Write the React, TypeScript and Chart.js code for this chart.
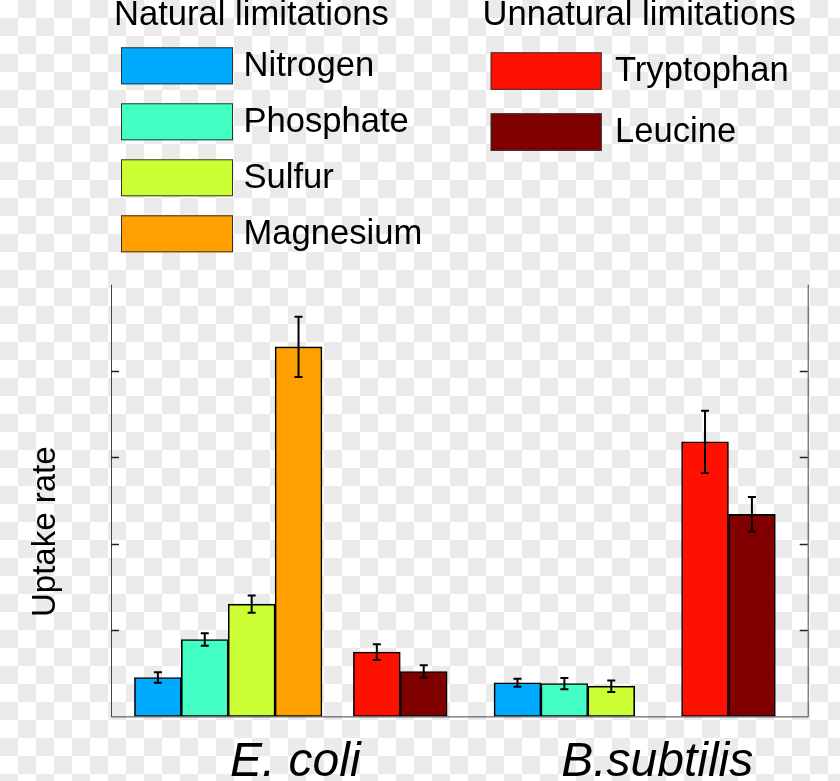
import { useEffect, useRef } from 'react';
import { Chart, registerables } from 'chart.js';

Chart.register(...registerables);

// ---- data ----
const organisms = ['E. coli', 'B.subtilis'];
const organismLabelX = [3.93, 11.65];
const seriesNames = ['Nitrogen', 'Phosphate', 'Sulfur', 'Magnesium', 'Tryptophan', 'Leucine'];
const seriesGroup = [0, 0, 0, 0, 1, 1];
const groupTitles = ['Natural limitations', 'Unnatural limitations'];
const seriesColors = ['#00AAFF', '#44FFC4', '#CCFF33', '#FFA000', '#FF1000', '#800000'];

// slot position of each series' bar on the x axis, per organism
const ecoliSlots = [1, 2, 3, 4, 5.67, 6.67];
const bsubSlots = [8.67, 9.67, 10.67, null, 12.67, 13.67];

// values per organism [E. coli, B.subtilis]
const nitrogen = [0.45, 0.39];
const phosphate = [0.89, 0.38];
const sulfur = [1.3, 0.35];
const magnesium = [4.28, null];
const tryptophan = [0.745, 3.18];
const leucine = [0.52, 2.34];

const nitrogenErr = [0.06, 0.046];
const phosphateErr = [0.073, 0.066];
const sulfurErr = [0.1, 0.066];
const magnesiumErr = [0.35, null];
const tryptophanErr = [0.092, 0.36];
const leucineErr = [0.073, 0.2];

const yTicks = [1, 2, 3, 4];
const yMax = 5;
const xMax = 14.86;

const seriesValues = [nitrogen, phosphate, sulfur, magnesium, tryptophan, leucine];
const seriesErrors = [nitrogenErr, phosphateErr, sulfurErr, magnesiumErr, tryptophanErr, leucineErr];
const slotsByOrganism = [ecoliSlots, bsubSlots];

const FONT = "'Liberation Sans', Arial, sans-serif";
const AXIS_COLOR = '#444444';

const decorPlugin = {
  id: 'decor',
  afterDatasetsDraw(chart: any) {
    const ctx = chart.ctx;
    const yScale = chart.scales.y;
    ctx.save();
    ctx.strokeStyle = '#000';
    ctx.lineWidth = 2;
    chart.data.datasets.forEach((ds: any, di: number) => {
      const meta = chart.getDatasetMeta(di);
      ds.data.forEach((pt: any, i: number) => {
        const el = meta.data[i];
        const e = ds.errors[i];
        if (!el || e == null) return;
        const top = yScale.getPixelForValue(pt.y + e);
        const bot = yScale.getPixelForValue(pt.y - e);
        const x = el.x;
        ctx.beginPath();
        ctx.moveTo(x, top);
        ctx.lineTo(x, bot);
        ctx.moveTo(x - 4, top);
        ctx.lineTo(x + 4, top);
        ctx.moveTo(x - 4, bot);
        ctx.lineTo(x + 4, bot);
        ctx.stroke();
      });
    });
    ctx.restore();
  },
  afterDraw(chart: any) {
    const ctx = chart.ctx;
    const { left, right, top, bottom } = chart.chartArea;
    const yScale = chart.scales.y;
    ctx.save();
    ctx.strokeStyle = AXIS_COLOR;
    ctx.lineWidth = 1;
    ctx.beginPath();
    ctx.moveTo(left + 0.5, top);
    ctx.lineTo(left + 0.5, bottom + 0.5);
    ctx.lineTo(right + 0.5, bottom + 0.5);
    ctx.lineTo(right + 0.5, top);
    ctx.stroke();
    ctx.lineWidth = 1.5;
    ctx.strokeStyle = '#222';
    yTicks.forEach((v) => {
      const y = Math.round(yScale.getPixelForValue(v)) + 0.5;
      ctx.beginPath();
      ctx.moveTo(left, y);
      ctx.lineTo(left + 8, y);
      ctx.moveTo(right, y);
      ctx.lineTo(right - 8, y);
      ctx.stroke();
    });
    ctx.fillStyle = '#000';
    ctx.font = `33px ${FONT}`;
    ctx.textAlign = 'center';
    ctx.textBaseline = 'alphabetic';
    ctx.save();
    ctx.translate(54.5, 531.7);
    ctx.rotate(-Math.PI / 2);
    ctx.fillText('Uptake rate', 0, 0);
    ctx.restore();

    const cols = [
      { titleX: 114, boxX: 121, boxW: 112, boxH: 37, firstY: 47.3, step: 56, textX: 243.5 },
      { titleX: 482.5, boxX: 490.7, boxW: 111, boxH: 37.5, firstY: 52.3, step: 61, textX: 615 },
    ];
    ctx.textAlign = 'left';
    ctx.textBaseline = 'alphabetic';
    ctx.font = `34.6px ${FONT}`;
    groupTitles.forEach((t, gi) => {
      ctx.fillStyle = '#000';
      ctx.fillText(t, cols[gi].titleX, 25);
    });
    const counters = [0, 0];
    chart.data.datasets.forEach((ds: any, di: number) => {
      const g = seriesGroup[di];
      const c = cols[g];
      const y = c.firstY + counters[g] * c.step;
      counters[g]++;
      ctx.fillStyle = ds.backgroundColor;
      ctx.fillRect(c.boxX, y, c.boxW, c.boxH);
      ctx.strokeStyle = '#333';
      ctx.lineWidth = 1;
      ctx.strokeRect(c.boxX + 0.5, y + 0.5, c.boxW - 1, c.boxH - 1);
      ctx.fillStyle = '#000';
      ctx.fillText(ds.label, c.textX, y + 29);
    });
    ctx.restore();
  },
};

export default function App() {
  const ref = useRef<HTMLCanvasElement>(null);

  useEffect(() => {
    if (!ref.current) return;
    const datasets = seriesNames.map((name, si) => {
      const data: any[] = [];
      const errors: any[] = [];
      organisms.forEach((_, oi) => {
        const v = seriesValues[si][oi];
        const x = slotsByOrganism[oi][si];
        if (v == null || x == null) return;
        data.push({ x, y: v });
        errors.push(seriesErrors[si][oi]);
      });
      return {
        label: name,
        data,
        errors,
        backgroundColor: seriesColors[si],
        borderColor: '#000',
        borderWidth: 1.6,
        borderSkipped: false,
        grouped: false,
        barPercentage: 1,
        categoryPercentage: 1,
      };
    });

    const chart = new Chart(ref.current, {
      type: 'bar',
      data: { datasets } as any,
      options: {
        animation: false,
        responsive: false,
        layout: { padding: { left: 111, right: 32.3, top: 284.7, bottom: -28.8 } },
        plugins: { legend: { display: false }, tooltip: { enabled: false } },
        scales: {
          x: {
            type: 'linear',
            offset: false,
            bounds: 'data',
            min: 0,
            max: xMax,
            grid: { display: false, drawTicks: false },
            border: { display: false },
            afterBuildTicks: (scale: any) => {
              scale.ticks = organismLabelX.map((v) => ({ value: v }));
            },
            ticks: {
              autoSkip: false,
              maxRotation: 0,
              padding: 27.5,
              color: '#000',
              font: { family: FONT, size: 48, style: 'italic', lineHeight: 0.8 },
              callback: (_v: any, i: number) => organisms[i],
            },
          },
          y: {
            display: false,
            min: 0,
            max: yMax,
          },
        },
      } as any,
      plugins: [decorPlugin],
    });
    return () => chart.destroy();
  }, []);

  return (
    <div
      style={{
        position: 'absolute',
        left: 0,
        top: 0,
        width: 840,
        height: 781,
        backgroundColor: '#fff',
        backgroundImage:
          'conic-gradient(#ebebeb 0 25%, #ffffff 0 50%, #ebebeb 0 75%, #ffffff 0)',
        backgroundSize: '36px 36px',
      }}
    >
      <canvas ref={ref} width={840} height={781} style={{ display: 'block' }} />
    </div>
  );
}
